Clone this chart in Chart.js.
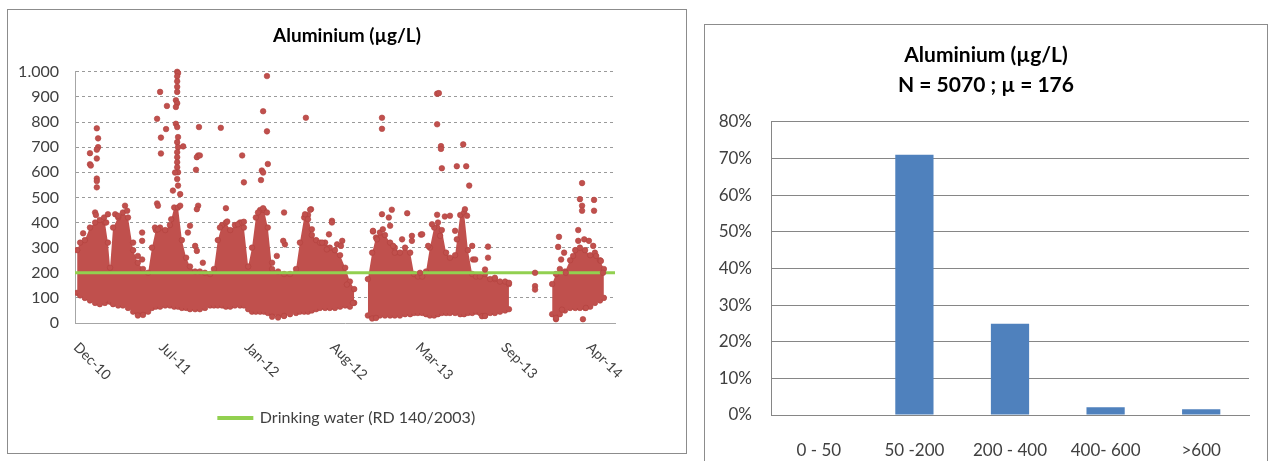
<!DOCTYPE html>
<html>
<head>
<meta charset="utf-8">
<script src="https://cdn.jsdelivr.net/npm/chart.js@4.4.1/dist/chart.umd.min.js"></script>
<style>
  html, body { margin: 0; padding: 0; background: #fff; width: 1272px; height: 461px; overflow: hidden; }
  #leftBox { position: absolute; left: 7px; top: 9px; width: 678px; height: 443px; border: 1px solid #8c8c8c; }
  #rightBox { position: absolute; left: 704px; top: 24px; width: 562px; height: 470px; border: 1px solid #8c8c8c; }
  canvas { display: block; }
</style>
</head>
<body>
<div id="leftBox"><canvas id="timeChart" width="678" height="443"></canvas></div>
<div id="rightBox"><canvas id="histChart" width="562" height="436"></canvas></div>

<script>
// x values are days counted from 24 Dec 2010
const dayZero = Date.UTC(2010, 11, 24);
const axisEndDay = 1263;
const tickStepDays = 200;
const monthNames = ['Jan','Feb','Mar','Apr','May','Jun','Jul','Aug','Sep','Oct','Nov','Dec'];

const limitLabel = 'Drinking water (RD 140/2003)';
const limitValue = 200;

// dense body of the measurements (lower / upper edge of the solid cloud)
const bandDays = [5,12,23,35,47,58,70,77,82,89,101,112,124,136,147,159,171,180,189,199,
  211,222,232,241,250,260,269,281,292,304,316,325,334,344,353,363,374,386,395,405,
  414,423,433,442,451,461,475,489,503,517,526,536,545,554,564,573,585,596,608,620,
  632,643,653,667,685,695,704,713,725,737,748,760,772,784,793,802,812,821,830,840,
  849,858,868,877,889,901,910,919,929,938,947,959,971,982,994,1006,1015,1064,
  1116,1125,1134,1146,1158,1170,1181,1193,1205,1216,1228,1237];
const bandLow = [120,110,100,90,80,75,80,90,85,75,70,70,60,45,40,40,45,60,65,65,
  70,70,65,65,60,60,55,55,55,60,70,70,70,70,65,65,70,70,70,55,
  45,45,45,45,40,35,30,30,35,40,45,45,45,50,55,60,60,60,60,65,
  70,65,80,null,30,25,25,30,30,30,30,30,35,35,40,40,40,35,30,30,
  35,40,40,40,40,35,35,40,40,45,40,30,40,40,45,50,55,null,
  35,35,35,50,60,60,60,60,65,80,90,100];
const bandHigh = [290,320,330,380,400,410,400,320,220,380,420,440,420,290,240,215,200,300,370,380,
  370,390,460,460,330,260,225,205,205,200,195,215,330,390,400,370,390,400,380,225,
  300,420,450,450,380,215,205,195,195,215,320,420,430,350,330,320,320,300,290,270,
  220,165,135,null,175,280,340,360,350,320,300,280,300,280,195,185,185,205,300,380,
  400,370,280,260,270,430,440,290,195,185,185,195,175,175,165,165,155,null,
  155,195,215,205,250,290,300,290,270,280,250,215];

// isolated high readings [day, µg/L]
const outlierPoints = [
  [35,676],[35,632],[37,627],[51,775],[54,735],[54,700],[51,690],[51,655],[51,575],[51,565],[51,540],
  [199,920],[215,864],[192,813],[213,772],[201,738],[201,675],[239,1000],[241,995],[239,982],[239,962],
  [239,940],[239,920],[236,887],[239,875],[236,860],[236,793],[239,780],[241,740],[239,720],[241,700],
  [253,703],[239,680],[239,660],[239,640],[239,620],[241,600],[239,573],[241,547],[229,527],[246,513],
  [234,599],[290,780],[288,667],[285,660],[283,610],[292,667],[192,476],[194,467],[288,467],[285,453],
  [341,777],[391,667],[395,560],[353,457],[437,607],[451,633],[435,569],[440,599],[440,843],[449,763],
  [449,983],[489,440],[552,453],[540,817],[601,407],[594,353],[578,320],[550,451],
  [718,817],[718,773],[847,913],[851,915],[847,791],[856,704],[856,693],[908,711],[858,616],[893,624],
  [915,624],[922,547],[741,451],[718,433],[734,420],[777,437],[847,431],[865,424],[697,364],[809,352],
  [1186,557],[1181,493],[1186,467],[1186,447],[1214,490],[1214,447],[1132,343],[1130,303],[1177,370],
  [966,304],[966,260],[1076,200],[1076,147],[1076,133],[1125,15],[1188,15],[952,27]
];

// scattered readings around the edge of the cloud [day, µg/L]
const fringePoints = [
  [19,357],[47,440],[49,430],[68,420],[73,400],[77,433],[94,433],[101,427],[117,467],[122,447],
  [157,360],[136,320],[157,327],[157,253],[147,267],[187,380],[194,373],[225,413],[246,467],[269,387],
  [264,360],[281,307],[285,287],[299,240],[339,380],[356,404],[381,393],[391,400],[395,403],[428,440],
  [440,457],[449,440],[461,240],[491,313],[487,327],[472,267],[538,433],[545,413],[554,373],[589,293],
  [601,400],[613,313],[625,327],[622,307],[636,153],[650,80],[697,367],[706,333],[720,373],[737,387],
  [744,307],[748,280],[765,333],[788,327],[788,347],[812,353],[807,200],[835,393],[826,307],[854,347],
  [889,367],[893,333],[877,427],[912,453],[917,427],[929,307],[931,253],[936,253],[959,213],[982,180],
  [1015,160],[1137,253],[1144,280],[1148,200],[1165,267],[1177,327],[1191,333],[1202,327],[1212,307],
  [1219,267],[1230,247],[1235,200],[1195,60],[1139,53],
  [147,30],[159,32],[461,25],[475,22],[489,28],[695,18],[704,20],[959,28],[1125,20]
];

const yMax = 1000;
const yStep = 100;

// histogram
const binLabels = ['0 - 50', '50 -200', '200 - 400', '400- 600', '>600'];
const binShare = [0, 71.0, 24.9, 2.1, 1.6];
const histTitle = ['Aluminium (µg/L)', 'N = 5070 ; µ = 176'];

const red = '#C0504D';
const green = '#92D050';
const blue = '#4F81BD';
const textGrey = '#404040';

Chart.defaults.font.family = 'Lato, "Open Sans", sans-serif';
Chart.defaults.color = textGrey;
Chart.defaults.animation = false;
Chart.defaults.events = [];
Chart.defaults.plugins.tooltip.enabled = false;

function dayLabel(d) {
  const dt = new Date(dayZero + d * 86400000);
  return monthNames[dt.getUTCMonth()] + '-' + String(dt.getUTCFullYear()).slice(2);
}

function thousands(v) {
  if (v < 1000) return String(v);
  return Math.floor(v / 1000) + '.' + String(v % 1000).padStart(3, '0');
}

// excel style slanted date labels
const slantLabels = {
  id: 'slantLabels',
  afterDraw(chart) {
    const xs = chart.scales.x;
    const ctx = chart.ctx;
    ctx.save();
    ctx.font = '14px Lato, "Open Sans", sans-serif';
    ctx.fillStyle = textGrey;
    ctx.textAlign = 'left';
    ctx.textBaseline = 'middle';
    xs.ticks.forEach(t => {
      const px = xs.getPixelForValue(t.value);
      ctx.save();
      ctx.translate(px + 1, xs.top + 22);
      ctx.rotate(Math.PI / 4);
      ctx.fillText(dayLabel(t.value), 0, 0);
      ctx.restore();
    });
    ctx.restore();
  }
};

const lowData = bandDays.map((d, i) => ({ x: d, y: bandLow[i] }));
const highData = bandDays.map((d, i) => ({ x: d, y: bandHigh[i] }));
const pointData = outlierPoints.concat(fringePoints).map(p => ({ x: p[0], y: p[1] }));

const dotStyle = {
  pointRadius: 2.8,
  pointBorderWidth: 0.6,
  pointBackgroundColor: red,
  pointBorderColor: '#B2413E'
};

new Chart(document.getElementById('timeChart'), {
  type: 'line',
  data: {
    datasets: [
      Object.assign({
        label: 'low',
        data: lowData,
        borderWidth: 0,
        fill: false,
        order: 4
      }, dotStyle),
      Object.assign({
        label: 'high',
        data: highData,
        borderWidth: 0,
        backgroundColor: red,
        fill: '-1',
        order: 3
      }, dotStyle),
      {
        label: limitLabel,
        data: [{ x: 0, y: limitValue }, { x: axisEndDay, y: limitValue }],
        borderColor: green,
        backgroundColor: green,
        borderWidth: 3,
        pointRadius: 0,
        order: 2
      },
      Object.assign({
        type: 'scatter',
        label: 'Aluminium',
        data: pointData,
        backgroundColor: red,
        borderColor: '#B2413E',
        clip: false,
        order: 1
      }, dotStyle)
    ]
  },
  options: {
    responsive: false,
    layout: { padding: { left: 0, right: 0, top: 0, bottom: 17 } },
    plugins: {
      title: {
        display: true,
        text: 'Aluminium (µg/L)',
        color: '#000',
        font: { size: 19, weight: 'bold' },
        padding: { top: 14, bottom: 25 }
      },
      legend: {
        position: 'bottom',
        labels: {
          boxWidth: 33,
          boxHeight: 1,
          font: { size: 16 },
          color: textGrey,
          padding: 10,
          filter: item => item.text === limitLabel
        }
      }
    },
    scales: {
      x: {
        type: 'linear',
        min: 0,
        max: axisEndDay,
        ticks: { display: false },
        afterBuildTicks: s => {
          const t = [];
          for (let v = 0; v <= axisEndDay; v += tickStepDays) t.push({ value: v });
          s.ticks = t;
        },
        grid: { display: false },
        border: { display: true, color: '#a6a6a6' },
        afterFit: s => { s.height = 77; }
      },
      y: {
        min: 0,
        max: yMax,
        ticks: {
          stepSize: yStep,
          padding: 16,
          font: { size: 16 },
          color: textGrey,
          callback: v => thousands(v)
        },
        grid: {
          drawTicks: false,
          color: c => (c.tick && c.tick.value === 0) ? 'rgba(0,0,0,0)' : '#9a9a9a'
        },
        border: { display: true, color: '#a6a6a6', dash: [3, 3] },
        afterFit: s => { s.width = 67; }
      },
      yRight: {
        position: 'right',
        display: true,
        ticks: { display: false },
        grid: { display: false },
        border: { display: false },
        afterFit: s => { s.width = 71; }
      }
    }
  },
  plugins: [slantLabels]
});

new Chart(document.getElementById('histChart'), {
  type: 'bar',
  data: {
    labels: binLabels,
    datasets: [{
      label: 'share',
      data: binShare,
      backgroundColor: blue,
      barPercentage: 0.4,
      categoryPercentage: 1.0
    }]
  },
  options: {
    responsive: false,
    layout: { padding: 0 },
    plugins: {
      legend: { display: false },
      title: {
        display: true,
        text: histTitle,
        color: '#000',
        font: { size: 21, weight: 'bold', lineHeight: 1.4 },
        padding: { top: 16, bottom: 22 }
      }
    },
    scales: {
      x: {
        grid: { display: false },
        border: { display: true, color: '#868686' },
        ticks: { font: { size: 17 }, color: textGrey, padding: 17 },
        afterFit: s => { s.height = 46; }
      },
      y: {
        min: 0,
        max: 80,
        ticks: {
          stepSize: 10,
          padding: 19,
          font: { size: 17 },
          color: textGrey,
          callback: v => v + '%'
        },
        grid: { drawTicks: false, color: '#868686' },
        border: { display: true, color: '#868686' },
        afterFit: s => { s.width = 66; }
      },
      yRight: {
        position: 'right',
        display: true,
        ticks: { display: false },
        grid: { display: false },
        border: { display: false },
        afterFit: s => { s.width = 18; }
      }
    }
  }
});
</script>
</body>
</html>
